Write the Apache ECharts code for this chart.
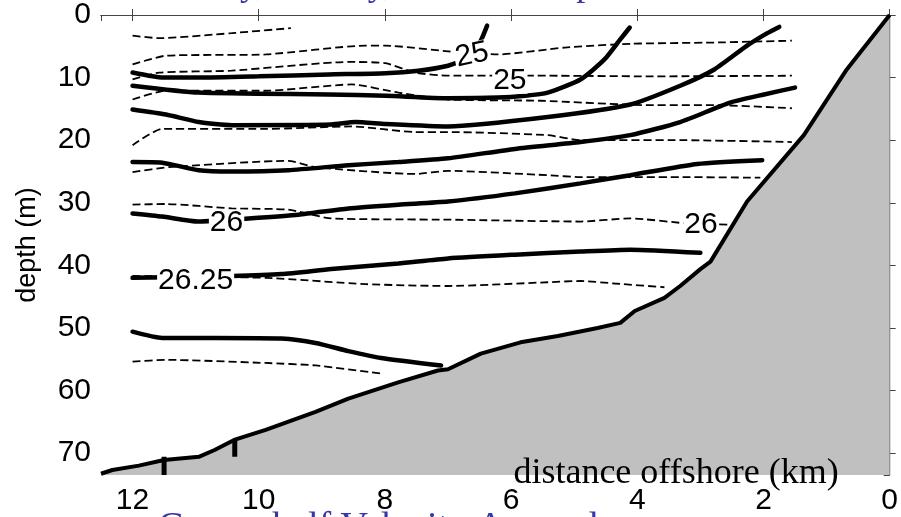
<!DOCTYPE html>
<html>
<head>
<meta charset="utf-8">
<title>depth section</title>
<script src="https://cdn.jsdelivr.net/npm/echarts@6/dist/echarts.min.js"></script>
<style>
    html, body { margin: 0; padding: 0; background: #fff; }
    #chart { width: 901px; height: 517px; }
</style>
</head>
<body>
<div id="chart"></div>
<script>
// axis ticks
var xTicks = [0, 2, 4, 6, 8, 10, 12];
var yTicks = [0, 10, 20, 30, 40, 50, 60, 70];

// bottom profile [km offshore, depth m]
var bathymetry = [[12.5, 73.3], [12.32, 72.7], [11.9, 72.0], [11.5, 71.1], [10.95, 70.6], [10.7, 69.5],
    [10.39, 67.9], [9.89, 66.3], [9.1, 63.4], [8.58, 61.3], [7.79, 58.7], [7.16, 56.8], [7.0, 56.6],
    [6.48, 54.1], [5.85, 52.3], [5.26, 51.3], [4.63, 50.0], [4.27, 49.2], [4.04, 47.3], [3.57, 45.2],
    [3.32, 43.3], [3.0, 40.6], [2.84, 39.4], [2.26, 29.8], [1.36, 19.2], [0.68, 8.7], [0, 0]];
var spikeA = [[11.5, 70.6], [11.5, 73.5]];
var spikeB = [[10.38, 67.9], [10.38, 70.6]];

// thick contours
var solid1 = [[12.0, 9.2], [11.74, 9.7], [11.5, 10.0], [10.95, 10.0], [10.0, 9.8], [8.89, 9.5], [7.99, 9.3],
    [7.47, 8.9], [7.0, 8.1], [6.76, 7.1], [6.6, 5.8], [6.48, 4.1], [6.38, 1.7]];
var solid2 = [[12.0, 11.3], [10.95, 12.4], [8.89, 12.7], [7.99, 12.9], [7.0, 13.3], [6.21, 13.2], [5.78, 12.9],
    [5.42, 12.4], [4.9, 10.3], [4.52, 7.1], [4.27, 3.9], [4.12, 2.0]];
var solid3 = [[12.0, 15.1], [11.47, 15.9], [10.95, 17.1], [10.43, 17.6], [8.85, 17.5], [8.47, 17.1], [7.99, 17.4],
    [7.0, 17.8], [5.42, 16.3], [4.11, 14.3], [3.32, 11.3], [2.78, 8.7], [2.26, 4.9], [1.94, 2.9], [1.75, 1.9]];
var solid4 = [[12.0, 23.5], [11.53, 23.6], [10.95, 24.8], [10.43, 25.0], [9.53, 24.8], [8.58, 24.0], [7.79, 23.5],
    [7.0, 22.9], [5.94, 21.4], [4.9, 20.3], [4.11, 19.2], [3.32, 17.1], [2.53, 14.0], [1.99, 12.7], [1.5, 11.6]];
var solid5 = [[12.0, 31.7], [11.53, 32.2], [10.95, 33.0], [10.16, 32.5], [9.37, 31.9], [8.58, 30.9], [7.79, 30.3],
    [7.0, 29.8], [5.94, 28.5], [4.9, 26.9], [4.11, 25.6], [3.05, 23.8], [2.02, 23.2]];
var solid6 = [[12.0, 42.0], [10.43, 41.7], [9.64, 41.4], [8.85, 40.6], [7.79, 39.7], [7.0, 38.9], [5.94, 38.3],
    [4.9, 37.8], [4.11, 37.5], [3.0, 38.0]];
var solid7 = [[12.0, 50.6], [11.53, 51.6], [10.68, 51.6], [9.64, 51.7], [9.1, 52.4], [8.58, 53.7], [8.06, 54.8],
    [7.11, 56.0]];

// dashed contours
var dash1 = [[12.0, 3.3], [11.58, 3.7], [10.43, 2.9], [9.49, 2.1]];
var dash2 = [[12.0, 7.9], [11.47, 6.5], [9.89, 6.3], [8.31, 4.9], [7.99, 4.9], [7.0, 5.8], [6.21, 6.3],
    [5.15, 5.2], [4.11, 4.6], [2.78, 4.4], [1.55, 4.1]];
var dash3 = [[12.0, 10.3], [11.58, 9.2], [10.43, 8.9], [8.58, 7.5], [7.99, 7.7], [7.52, 9.2], [7.0, 9.7],
    [5.42, 9.7], [3.84, 9.8], [1.55, 9.7]];
var dash4 = [[12.0, 13.5], [11.47, 12.1], [9.89, 12.1], [8.53, 11.1], [7.79, 12.4], [7.0, 13.5], [5.53, 13.7],
    [3.84, 14.4], [2.78, 14.4], [1.55, 14.9]];
var dash5 = [[12.0, 20.8], [11.53, 18.2], [9.89, 18.2], [8.53, 17.8], [7.52, 18.7], [7.0, 18.7], [5.42, 19.2],
    [4.9, 20.0], [3.32, 20.0], [1.55, 20.3]];
var dash6 = [[12.0, 25.1], [11.42, 24.3], [9.53, 23.3], [9.1, 24.3], [7.52, 25.4], [7.0, 24.9], [5.42, 25.6],
    [4.9, 25.9], [3.32, 25.9], [2.05, 26.0]];
var dash7 = [[12.0, 30.3], [11.47, 30.2], [10.43, 30.9], [9.53, 31.1], [8.85, 32.5], [7.0, 32.7], [4.9, 33.0],
    [4.11, 32.5], [3.21, 33.3], [2.54, 33.5]];
var dash8 = [[12.0, 41.7], [9.89, 42.0], [8.31, 43.0], [7.0, 43.3], [5.42, 42.7], [4.9, 42.5], [4.36, 42.9],
    [3.57, 43.5]];
var dash9 = [[12.0, 55.4], [11.47, 55.1], [9.89, 55.6], [9.1, 56.0], [8.06, 57.3]];

// inline contour labels [km, depth, text, rotation deg]
var contourLabels = [[6.62, 6.4, '25', 12], [6.02, 10.5, '25', 0], [10.51, 33.2, '26', 0],
    [2.99, 33.5, '26', 0], [11.0, 42.5, '26.25', 0]];

var solids = [solid1, solid2, solid3, solid4, solid5, solid6, solid7];
var dashes = [dash1, dash2, dash3, dash4, dash5, dash6, dash7, dash8, dash9];

var AXIS_FONT = '"Liberation Sans", Arial, sans-serif';
var SERIF = '"Liberation Serif", "Times New Roman", serif';

function contour(data, dashed) {
    return {
        type: 'line',
        data: data,
        symbol: 'none',
        smooth: 0.2,
        silent: true,
        z: dashed ? 3 : 4,
        lineStyle: dashed
            ? {color: '#000', width: 1.8, type: [8, 4]}
            : {color: '#000', width: 4.5, cap: 'round'}
    };
}

function spike(data) {
    return {
        type: 'line',
        data: data,
        symbol: 'none',
        silent: true,
        z: 5,
        lineStyle: {color: '#000', width: 5}
    };
}

function axisX(pos, labels) {
    return {
        type: 'value',
        position: pos,
        min: 0,
        max: 12.5,
        interval: 2,
        inverse: true,
        axisLine: {lineStyle: {color: '#444', width: 1.2}},
        axisTick: {inside: true, length: 6, lineStyle: {color: '#444'}},
        axisLabel: {
            show: labels,
            showMaxLabel: false,
            margin: 11,
            fontSize: 30,
            fontFamily: AXIS_FONT,
            color: '#000',
            formatter: function (v) {
                return xTicks.indexOf(v) > -1 ? String(v) : '';
            }
        },
        splitLine: {show: false}
    };
}

function axisY(pos, labels) {
    return {
        type: 'value',
        position: pos,
        min: 0,
        max: 73.5,
        interval: 10,
        inverse: true,
        name: labels ? 'depth (m)' : '',
        nameLocation: 'middle',
        nameGap: 60,
        nameTextStyle: {fontSize: 27, fontFamily: AXIS_FONT, color: '#000'},
        axisLine: {lineStyle: {color: '#444', width: 1.2}},
        axisTick: {inside: true, length: 6, lineStyle: {color: '#444'}},
        axisLabel: {
            show: labels,
            showMaxLabel: false,
            margin: 10,
            fontSize: 30,
            fontFamily: AXIS_FONT,
            color: '#000',
            formatter: function (v) {
                return yTicks.indexOf(v) > -1 ? String(v) : '';
            }
        },
        splitLine: {show: false}
    };
}

var series = [{
    type: 'line',
    data: bathymetry,
    symbol: 'none',
    silent: true,
    z: 2,
    lineStyle: {color: '#000', width: 4},
    areaStyle: {color: '#c0c0c0', opacity: 1, origin: 'end'}
}, spike(spikeA), spike(spikeB)];

solids.forEach(function (d) {
    series.push(contour(d, false));
});
dashes.forEach(function (d) {
    series.push(contour(d, true));
});

// labels sit on the lines like clabel does
series.push({
    type: 'custom',
    silent: true,
    z: 10,
    data: contourLabels,
    renderItem: function (params, api) {
        var p = api.coord([api.value(0), api.value(1)]);
        var l = contourLabels[params.dataIndex];
        return {
            type: 'text',
            x: p[0],
            y: p[1],
            rotation: l[3] * Math.PI / 180,
            style: {
                text: l[2],
                font: '30px ' + AXIS_FONT,
                fill: '#000',
                align: 'center',
                verticalAlign: 'middle',
                backgroundColor: '#fff',
                padding: [-2, 1]
            }
        };
    }
});

var chart = echarts.init(document.getElementById('chart'), null, {renderer: 'canvas'});

chart.setOption({
    animation: false,
    backgroundColor: '#fff',
    grid: {left: 101, right: 8, top: 12, bottom: 42},
    xAxis: [axisX('bottom', true), axisX('top', false)],
    yAxis: [axisY('left', true), axisY('right', false)],
    series: series,
    graphic: [{
        type: 'text',
        x: 676,
        y: 474,
        z: 100,
        style: {
            text: 'distance offshore (km)',
            font: '36px ' + SERIF,
            fill: '#000',
            align: 'center',
            verticalAlign: 'middle'
        }
    }, {
        type: 'text',
        x: 146,
        y: -14,
        z: 100,
        style: {
            text: 'Density, Salinity, and Geostrophic',
            font: '36px ' + SERIF,
            fill: '#3535b0',
            verticalAlign: 'middle'
        }
    }, {
        type: 'text',
        x: 158,
        y: 528,
        z: 100,
        style: {
            text: 'Cross-shelf Velocity Anomaly',
            font: '38px ' + SERIF,
            fill: '#3535b0',
            verticalAlign: 'middle'
        }
    }]
});
</script>
</body>
</html>
